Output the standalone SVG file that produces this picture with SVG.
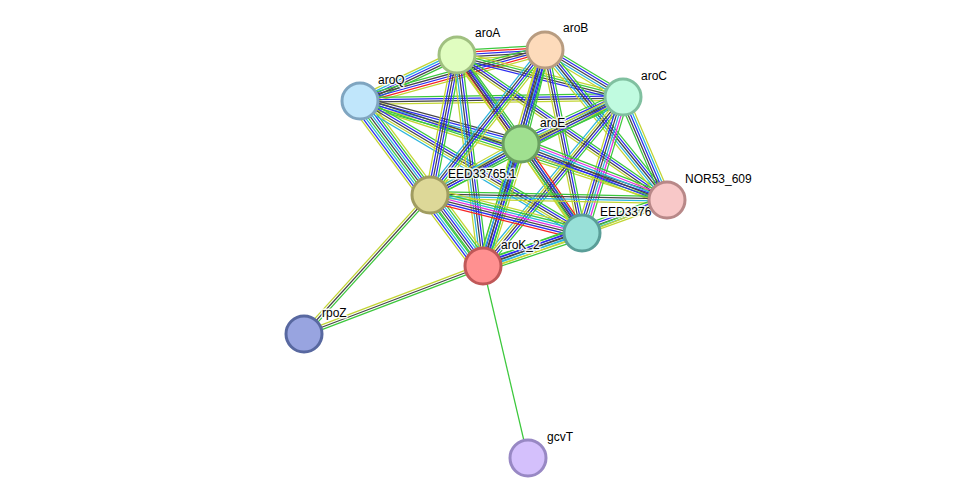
<svg xmlns="http://www.w3.org/2000/svg" width="975" height="504" viewBox="0 0 975 504">
<style>
.e line{stroke-width:1.25;vector-effect:non-scaling-stroke;fill:none}
.g{stroke:#3cc83c}.b{stroke:#2b2bf0}.k{stroke:#464646}.c{stroke:#2ab4dc}.y{stroke:#c2d532}.r{stroke:#f52222}.m{stroke:#e030e0}
.n circle{stroke-width:3}
.n text{font-family:"Liberation Sans",Arial,sans-serif;font-size:12px;fill:#000;stroke:#fff;stroke-width:3;stroke-opacity:0.85;stroke-linejoin:round;paint-order:stroke}
</style>
<rect width="975" height="504" fill="#fff"/>
<g id="connectors" class="e">
<g transform="matrix(88 -5 0.057 0.999 457 55)"><line x2="1" y1="-4.6" y2="-4.6" class="g"/><line x2="1" y1="-2.3" y2="-2.3" class="r"/><line x2="1" y1="0" y2="0" class="b"/><line x2="1" y1="2.3" y2="2.3" class="k"/><line x2="1" y1="4.6" y2="4.6" class="y"/></g>
<g transform="matrix(97 -46 0.428 0.903 360 101)"><line x2="1" y1="-4.6" y2="-4.6" class="y"/><line x2="1" y1="-2.3" y2="-2.3" class="c"/><line x2="1" y1="0" y2="0" class="b"/><line x2="1" y1="2.3" y2="2.3" class="k"/><line x2="1" y1="4.6" y2="4.6" class="g"/></g>
<g transform="matrix(185 -51 0.266 0.964 360 101)"><line x2="1" y1="-4.6" y2="-4.6" class="g"/><line x2="1" y1="-2.3" y2="-2.3" class="k"/><line x2="1" y1="0" y2="0" class="b"/><line x2="1" y1="2.3" y2="2.3" class="r"/><line x2="1" y1="4.6" y2="4.6" class="y"/></g>
<g transform="matrix(263 -4 0.015 1 360 101)"><line x2="1" y1="-3.45" y2="-3.45" class="g"/><line x2="1" y1="-1.15" y2="-1.15" class="b"/><line x2="1" y1="1.15" y2="1.15" class="k"/><line x2="1" y1="3.45" y2="3.45" class="y"/></g>
<g transform="matrix(161 43 -0.258 0.966 360 101)"><line x2="1" y1="-4.6" y2="-4.6" class="k"/><line x2="1" y1="-2.3" y2="-2.3" class="b"/><line x2="1" y1="0" y2="0" class="c"/><line x2="1" y1="2.3" y2="2.3" class="y"/><line x2="1" y1="4.6" y2="4.6" class="g"/></g>
<g transform="matrix(70 94 -0.802 0.597 360 101)"><line x2="1" y1="-8.05" y2="-8.05" class="y"/><line x2="1" y1="-5.75" y2="-5.75" class="g"/><line x2="1" y1="-3.45" y2="-3.45" class="b"/><line x2="1" y1="-1.15" y2="-1.15" class="c"/><line x2="1" y1="1.15" y2="1.15" class="k"/></g>
<g transform="matrix(123 165 -0.802 0.598 360 101)"><line x2="1" y1="3.45" y2="3.45" class="g"/><line x2="1" y1="5.75" y2="5.75" class="c"/><line x2="1" y1="8.05" y2="8.05" class="b"/><line x2="1" y1="10.35" y2="10.35" class="y"/></g>
<g transform="matrix(307 99 -0.307 0.952 360 101)"><line x2="1" y1="-3.45" y2="-3.45" class="k"/><line x2="1" y1="-1.15" y2="-1.15" class="b"/><line x2="1" y1="1.15" y2="1.15" class="g"/><line x2="1" y1="3.45" y2="3.45" class="y"/></g>
<g transform="matrix(222 132 -0.511 0.859 360 101)"><line x2="1" y1="-4.6" y2="-4.6" class="g"/><line x2="1" y1="-2.3" y2="-2.3" class="b"/><line x2="1" y1="0" y2="0" class="k"/><line x2="1" y1="2.3" y2="2.3" class="y"/><line x2="1" y1="4.6" y2="4.6" class="c"/></g>
<g transform="matrix(166 42 -0.245 0.970 457 55)"><line x2="1" y1="-3.45" y2="-3.45" class="y"/><line x2="1" y1="-1.15" y2="-1.15" class="g"/><line x2="1" y1="1.15" y2="1.15" class="k"/><line x2="1" y1="3.45" y2="3.45" class="b"/></g>
<g transform="matrix(64 89 -0.812 0.584 457 55)"><line x2="1" y1="-4.6" y2="-4.6" class="g"/><line x2="1" y1="-2.3" y2="-2.3" class="b"/><line x2="1" y1="0" y2="0" class="k"/><line x2="1" y1="2.3" y2="2.3" class="r"/><line x2="1" y1="4.6" y2="4.6" class="y"/></g>
<g transform="matrix(-27 140 -0.982 -0.189 457 55)"><line x2="1" y1="-4.6" y2="-4.6" class="g"/><line x2="1" y1="-2.3" y2="-2.3" class="b"/><line x2="1" y1="0" y2="0" class="k"/><line x2="1" y1="2.3" y2="2.3" class="b"/><line x2="1" y1="4.6" y2="4.6" class="y"/></g>
<g transform="matrix(26 211 -0.992 0.122 457 55)"><line x2="1" y1="-4.6" y2="-4.6" class="g"/><line x2="1" y1="-2.3" y2="-2.3" class="b"/><line x2="1" y1="0" y2="0" class="k"/><line x2="1" y1="2.3" y2="2.3" class="c"/><line x2="1" y1="4.6" y2="4.6" class="y"/></g>
<g transform="matrix(210 145 -0.568 0.823 457 55)"><line x2="1" y1="-3.45" y2="-3.45" class="g"/><line x2="1" y1="-1.15" y2="-1.15" class="b"/><line x2="1" y1="1.15" y2="1.15" class="k"/><line x2="1" y1="3.45" y2="3.45" class="y"/></g>
<g transform="matrix(125 178 -0.818 0.575 457 55)"><line x2="1" y1="-3.45" y2="-3.45" class="g"/><line x2="1" y1="-1.15" y2="-1.15" class="b"/><line x2="1" y1="1.15" y2="1.15" class="k"/><line x2="1" y1="3.45" y2="3.45" class="y"/></g>
<g transform="matrix(78 47 -0.516 0.856 545 50)"><line x2="1" y1="-4.6" y2="-4.6" class="g"/><line x2="1" y1="-2.3" y2="-2.3" class="b"/><line x2="1" y1="0" y2="0" class="k"/><line x2="1" y1="2.3" y2="2.3" class="c"/><line x2="1" y1="4.6" y2="4.6" class="y"/></g>
<g transform="matrix(-24 94 -0.969 -0.247 545 50)"><line x2="1" y1="-4.6" y2="-4.6" class="g"/><line x2="1" y1="-2.3" y2="-2.3" class="b"/><line x2="1" y1="0" y2="0" class="c"/><line x2="1" y1="2.3" y2="2.3" class="k"/><line x2="1" y1="4.6" y2="4.6" class="y"/></g>
<g transform="matrix(-115 145 -0.783 -0.621 545 50)"><line x2="1" y1="-4.6" y2="-4.6" class="y"/><line x2="1" y1="-2.3" y2="-2.3" class="g"/><line x2="1" y1="0" y2="0" class="b"/><line x2="1" y1="2.3" y2="2.3" class="k"/><line x2="1" y1="4.6" y2="4.6" class="c"/></g>
<g transform="matrix(-62 216 -0.961 -0.276 545 50)"><line x2="1" y1="-4.6" y2="-4.6" class="g"/><line x2="1" y1="-2.3" y2="-2.3" class="b"/><line x2="1" y1="0" y2="0" class="k"/><line x2="1" y1="2.3" y2="2.3" class="b"/><line x2="1" y1="4.6" y2="4.6" class="y"/></g>
<g transform="matrix(122 150 -0.776 0.631 545 50)"><line x2="1" y1="-4.6" y2="-4.6" class="g"/><line x2="1" y1="-2.3" y2="-2.3" class="b"/><line x2="1" y1="0" y2="0" class="k"/><line x2="1" y1="2.3" y2="2.3" class="c"/><line x2="1" y1="4.6" y2="4.6" class="y"/></g>
<g transform="matrix(37 183 -0.980 0.198 545 50)"><line x2="1" y1="-3.45" y2="-3.45" class="g"/><line x2="1" y1="-1.15" y2="-1.15" class="b"/><line x2="1" y1="1.15" y2="1.15" class="k"/><line x2="1" y1="3.45" y2="3.45" class="y"/></g>
<g transform="matrix(102 -47 0.419 0.908 521 144)"><line x2="1" y1="-5.75" y2="-5.75" class="g"/><line x2="1" y1="-3.45" y2="-3.45" class="b"/><line x2="1" y1="-1.15" y2="-1.15" class="c"/><line x2="1" y1="1.15" y2="1.15" class="k"/><line x2="1" y1="3.45" y2="3.45" class="y"/><line x2="1" y1="5.75" y2="5.75" class="g"/></g>
<g transform="matrix(-193 98 -0.453 -0.891 623 97)"><line x2="1" y1="-3.45" y2="-3.45" class="g"/><line x2="1" y1="-1.15" y2="-1.15" class="b"/><line x2="1" y1="1.15" y2="1.15" class="k"/><line x2="1" y1="3.45" y2="3.45" class="y"/></g>
<g transform="matrix(-140 169 -0.770 -0.638 623 97)"><line x2="1" y1="-4.6" y2="-4.6" class="g"/><line x2="1" y1="-2.3" y2="-2.3" class="b"/><line x2="1" y1="0" y2="0" class="k"/><line x2="1" y1="2.3" y2="2.3" class="y"/><line x2="1" y1="4.6" y2="4.6" class="c"/></g>
<g transform="matrix(44 103 -0.920 0.393 623 97)"><line x2="1" y1="-4.6" y2="-4.6" class="y"/><line x2="1" y1="-2.3" y2="-2.3" class="c"/><line x2="1" y1="0" y2="0" class="b"/><line x2="1" y1="2.3" y2="2.3" class="k"/><line x2="1" y1="4.6" y2="4.6" class="g"/></g>
<g transform="matrix(-41 136 -0.958 -0.289 623 97)"><line x2="1" y1="-5.75" y2="-5.75" class="g"/><line x2="1" y1="-3.45" y2="-3.45" class="m"/><line x2="1" y1="-1.15" y2="-1.15" class="c"/><line x2="1" y1="1.15" y2="1.15" class="k"/><line x2="1" y1="3.45" y2="3.45" class="b"/><line x2="1" y1="5.75" y2="5.75" class="y"/></g>
<g transform="matrix(-91 51 -0.489 -0.872 521 144)"><line x2="1" y1="-4.6" y2="-4.6" class="g"/><line x2="1" y1="-2.3" y2="-2.3" class="b"/><line x2="1" y1="0" y2="0" class="k"/><line x2="1" y1="2.3" y2="2.3" class="c"/><line x2="1" y1="4.6" y2="4.6" class="y"/></g>
<g transform="matrix(-38 122 -0.955 -0.297 521 144)"><line x2="1" y1="-5.75" y2="-5.75" class="y"/><line x2="1" y1="-3.45" y2="-3.45" class="g"/><line x2="1" y1="-1.15" y2="-1.15" class="b"/><line x2="1" y1="1.15" y2="1.15" class="k"/><line x2="1" y1="3.45" y2="3.45" class="c"/><line x2="1" y1="5.75" y2="5.75" class="g"/></g>
<g transform="matrix(146 56 -0.358 0.934 521 144)"><line x2="1" y1="-5.75" y2="-5.75" class="g"/><line x2="1" y1="-3.45" y2="-3.45" class="m"/><line x2="1" y1="-1.15" y2="-1.15" class="c"/><line x2="1" y1="1.15" y2="1.15" class="k"/><line x2="1" y1="3.45" y2="3.45" class="b"/><line x2="1" y1="5.75" y2="5.75" class="y"/></g>
<g transform="matrix(61 89 -0.825 0.565 521 144)"><line x2="1" y1="-4.6" y2="-4.6" class="r"/><line x2="1" y1="-2.3" y2="-2.3" class="b"/><line x2="1" y1="0" y2="0" class="k"/><line x2="1" y1="2.3" y2="2.3" class="g"/><line x2="1" y1="4.6" y2="4.6" class="y"/></g>
<g transform="matrix(53 71 -0.801 0.598 430 195)"><line x2="1" y1="-9.2" y2="-9.2" class="y"/><line x2="1" y1="-6.9" y2="-6.9" class="g"/><line x2="1" y1="-4.6" y2="-4.6" class="c"/><line x2="1" y1="-2.3" y2="-2.3" class="b"/><line x2="1" y1="0" y2="0" class="k"/><line x2="1" y1="2.3" y2="2.3" class="g"/></g>
<g transform="matrix(237 5 -0.021 1 430 195)"><line x2="1" y1="-3.45" y2="-3.45" class="g"/><line x2="1" y1="-1.15" y2="-1.15" class="k"/><line x2="1" y1="1.15" y2="1.15" class="c"/><line x2="1" y1="3.45" y2="3.45" class="y"/></g>
<g transform="matrix(152 38 -0.243 0.970 430 195)"><line x2="1" y1="-6.9" y2="-6.9" class="y"/><line x2="1" y1="-4.6" y2="-4.6" class="g"/><line x2="1" y1="-2.3" y2="-2.3" class="c"/><line x2="1" y1="0" y2="0" class="m"/><line x2="1" y1="2.3" y2="2.3" class="k"/><line x2="1" y1="4.6" y2="4.6" class="b"/><line x2="1" y1="6.9" y2="6.9" class="r"/></g>
<g transform="matrix(184 -66 0.338 0.941 483 266)"><line x2="1" y1="-4.6" y2="-4.6" class="g"/><line x2="1" y1="-2.3" y2="-2.3" class="b"/><line x2="1" y1="0" y2="0" class="k"/><line x2="1" y1="2.3" y2="2.3" class="c"/><line x2="1" y1="4.6" y2="4.6" class="y"/></g>
<g transform="matrix(99 -33 0.316 0.948 483 266)"><line x2="1" y1="-5.75" y2="-5.75" class="g"/><line x2="1" y1="-3.45" y2="-3.45" class="b"/><line x2="1" y1="-1.15" y2="-1.15" class="k"/><line x2="1" y1="1.15" y2="1.15" class="c"/><line x2="1" y1="3.45" y2="3.45" class="y"/><line x2="1" y1="5.75" y2="5.75" class="g"/></g>
<g transform="matrix(85 -33 0.362 0.932 582 233)"><line x2="1" y1="-1.15" y2="-1.15" class="g"/><line x2="1" y1="1.15" y2="1.15" class="y"/></g>
<g transform="matrix(126 -139 0.741 0.672 304 334)"><line x2="1" y1="-2.3" y2="-2.3" class="y"/><line x2="1" y1="0" y2="0" class="k"/><line x2="1" y1="2.3" y2="2.3" class="g"/></g>
<g transform="matrix(179 -68 0.355 0.935 304 334)"><line x2="1" y1="-2.3" y2="-2.3" class="y"/><line x2="1" y1="0" y2="0" class="k"/><line x2="1" y1="2.3" y2="2.3" class="g"/></g>
<line x1="483" y1="266" x2="528" y2="458" class="g"/>
</g>
<g id="node-aroA" class="n"><circle cx="457" cy="55" r="18" fill="#e0fdc0" stroke="#a0c080"/><text x="475" y="37">aroA</text></g>
<g id="node-aroB" class="n"><circle cx="545" cy="50" r="18" fill="#fddbbb" stroke="#b89c80"/><text x="563" y="32">aroB</text></g>
<g id="node-aroC" class="n"><circle cx="623" cy="97" r="18" fill="#c0fbe0" stroke="#80c0a0"/><text x="641" y="80">aroC</text></g>
<g id="node-aroQ" class="n"><circle cx="360" cy="101" r="18" fill="#c0e6fb" stroke="#7fa5c0"/><text x="378" y="84">aroQ</text></g>
<g id="node-aroE" class="n"><circle cx="521" cy="144" r="18" fill="#a0e090" stroke="#6aa060"/><text x="540" y="127">aroE</text></g>
<g id="node-EED33765" class="n"><circle cx="430" cy="195" r="18" fill="#ddd898" stroke="#a09c60"/><text x="448" y="178">EED33765.1</text></g>
<g id="node-EED3376" class="n"><circle cx="582" cy="233" r="18" fill="#98e0d8" stroke="#5a9e98"/><text x="600" y="216">EED3376</text></g>
<g id="node-NOR53_609" class="n"><circle cx="667" cy="200" r="18" fill="#f8c8c8" stroke="#b88888"/><text x="685" y="183">NOR53_609</text></g>
<g id="node-aroK_2" class="n"><circle cx="483" cy="266" r="18" fill="#ff9090" stroke="#c05858"/><text x="501" y="249">aroK_2</text></g>
<g id="node-rpoZ" class="n"><circle cx="304" cy="334" r="18" fill="#98a4e0" stroke="#5868a0"/><text x="322" y="317">rpoZ</text></g>
<g id="node-gcvT" class="n"><circle cx="528" cy="458" r="18" fill="#d4c0fc" stroke="#9888c4"/><text x="547" y="441">gcvT</text></g>
</svg>
